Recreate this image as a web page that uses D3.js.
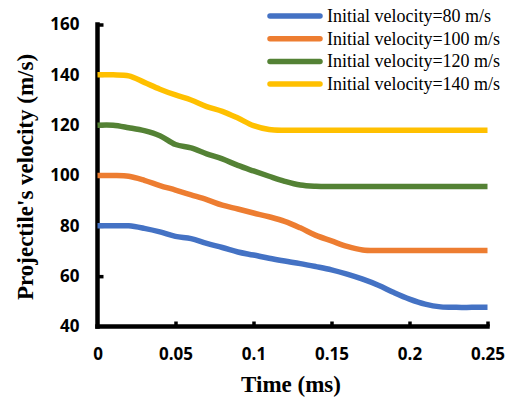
<!DOCTYPE html>
<html>
<head>
<meta charset="utf-8">
<script src="https://cdn.jsdelivr.net/npm/d3@7"></script>
<style>
  html, body { margin: 0; padding: 0; background: #fff; }
  svg { display: block; }
</style>
</head>
<body>
<svg id="chart" width="508" height="402"></svg>
<script>
// ---- data ----
const times = [0, 0.01, 0.02, 0.03, 0.04, 0.05, 0.06, 0.07, 0.08, 0.09, 0.10, 0.11, 0.12,
               0.13, 0.14, 0.15, 0.16, 0.17, 0.18, 0.19, 0.20, 0.21, 0.22, 0.23, 0.24, 0.25];
const v80  = [80, 80, 80, 79, 77.6, 75.8, 74.9, 73, 71.4, 69.6, 68.4, 67.1, 66,
              65, 63.8, 62.5, 60.8, 58.8, 56.4, 53.5, 50.9, 48.9, 47.8, 47.6, 47.6, 47.6];
const v100 = [100, 100, 99.7, 98.1, 96, 94.2, 92.3, 90.4, 88.2, 86.7, 85.1, 83.6, 81.8,
              79.2, 76.2, 74, 71.8, 70.4, 70.2, 70.2, 70.2, 70.2, 70.2, 70.2, 70.2, 70.2];
const v120 = [120, 120, 119, 117.8, 115.8, 112.3, 111, 108.6, 106.6, 104, 101.8, 99.7, 97.7,
              96.2, 95.7, 95.6, 95.6, 95.6, 95.6, 95.6, 95.6, 95.6, 95.6, 95.6, 95.6, 95.6];
const v140 = [140, 140, 139.6, 137, 134.3, 132, 130, 127.4, 125.5, 122.8, 119.8, 118.3, 118,
              118, 118, 118, 118, 118, 118, 118, 118, 118, 118, 118, 118, 118];
const seriesNames = ["Initial velocity=80 m/s", "Initial velocity=100 m/s",
                     "Initial velocity=120 m/s", "Initial velocity=140 m/s"];
const seriesValues = [v80, v100, v120, v140];
const colors = ["#4472C4", "#ED7D31", "#548235", "#FFC000"];
const xTicks = [0, 0.05, 0.1, 0.15, 0.2, 0.25];
const xTickLabels = ["0", "0.05", "0.1", "0.15", "0.2", "0.25"];
const yTicks = [40, 60, 80, 100, 120, 140, 160];

// ---- layout ----
const svg = d3.select("#chart");
const x = d3.scaleLinear().domain([0, 0.25]).range([97.5, 487.5]);
const y = d3.scaleLinear().domain([40, 160]).range([326.5, 24.5]);

const tickFont = "'Open Sans', 'DejaVu Sans', sans-serif";
const serif = "'Liberation Serif', 'Times New Roman', serif";

// axes
const gx = svg.append("g").attr("transform", `translate(0,${y(40)})`)
  .call(d3.axisBottom(x).tickValues(xTicks).tickFormat((d, i) => xTickLabels[i])
        .tickSizeInner(-5).tickSizeOuter(0).tickPadding(21));
const gy = svg.append("g").attr("transform", `translate(${x(0)},0)`)
  .call(d3.axisLeft(y).tickValues(yTicks).tickFormat(d3.format("d"))
        .tickSizeInner(-6).tickSizeOuter(0).tickPadding(18));
[gx, gy].forEach(g => {
  g.select(".domain").remove();
  g.selectAll(".tick line").attr("stroke", "#000").attr("stroke-width", 3.5);
  g.selectAll(".tick text").attr("fill", "#000")
    .style("font-family", tickFont).style("font-weight", "700").style("font-size", "17px");
});
gx.selectAll(".tick").filter(d => d === 0).select("line").remove();
gy.selectAll(".tick").filter(d => d === 40).select("line").remove();

// axis lines
svg.append("line").attr("x1", x(0)).attr("x2", x(0.25)).attr("y1", y(40)).attr("y2", y(40))
  .attr("stroke", "#000").attr("stroke-width", 4.5).attr("stroke-linecap", "square");
svg.append("line").attr("x1", x(0)).attr("x2", x(0)).attr("y1", y(40)).attr("y2", y(160))
  .attr("stroke", "#000").attr("stroke-width", 4.5).attr("stroke-linecap", "square");

// lines
const line = d3.line().x((d, i) => x(times[i])).y(d => y(d)).curve(d3.curveCatmullRom.alpha(0.5));
seriesValues.forEach((vals, k) => {
  svg.append("path").datum(vals).attr("d", line)
    .attr("fill", "none").attr("stroke", colors[k]).attr("stroke-width", 5.5)
    .attr("stroke-linejoin", "round");
});

// legend
const lg = svg.append("g");
seriesNames.forEach((name, k) => {
  const yy = 16 + k * 22.7;
  lg.append("line").attr("x1", 270).attr("x2", 320).attr("y1", yy).attr("y2", yy)
    .attr("stroke", colors[k]).attr("stroke-width", 5.5).attr("stroke-linecap", "round");
  lg.append("text").attr("x", 327).attr("y", yy + 5.8).text(name)
    .style("font-family", serif).style("font-size", "18px").attr("fill", "#000");
});

// axis titles
svg.append("text").attr("x", 291).attr("y", 392).attr("text-anchor", "middle")
  .text("Time (ms)")
  .style("font-family", serif).style("font-weight", "700").style("font-size", "23px");
svg.append("text").attr("transform", "translate(33,177) rotate(-90)").attr("text-anchor", "middle")
  .text("Projectile's velocity (m/s)")
  .style("font-family", serif).style("font-weight", "700").style("font-size", "23px");
</script>
</body>
</html>
